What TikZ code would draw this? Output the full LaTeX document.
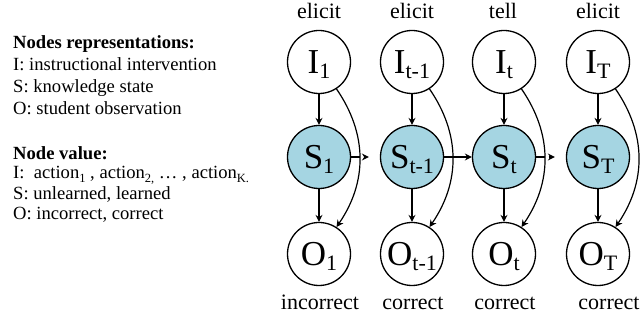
\documentclass[tikz,border=0pt]{standalone}
\usepackage{fontspec}
\setmainfont{Liberation Serif}
\newfontfamily\tnr{Liberation Serif}
\usetikzlibrary{arrows.meta}
\definecolor{sfill}{RGB}{165,213,226}
\newcommand{\nsub}[1]{\raisebox{-5pt}{\fontsize{22}{22}\selectfont #1}}
\newcommand{\tsub}[1]{\raisebox{-3.5pt}{\fontsize{12.5}{12.5}\selectfont #1}}
\begin{document}
\begin{tikzpicture}[x=1pt,y=-1pt,
  gnode/.style={circle,draw,line width=1.3pt,minimum size=63pt,inner sep=0pt,
    font=\tnr\fontsize{35}{35}\selectfont,text height=23pt,text depth=0pt},
  snode/.style={gnode,fill=sfill},
  lab/.style={anchor=base,font=\tnr\fontsize{22}{22}\selectfont,inner sep=0pt},
  legend/.style={anchor=base west,font=\tnr\fontsize{18.6}{20}\selectfont,inner sep=0pt},
  arr/.style={line width=1.2pt,-{Stealth[length=7pt,width=7pt,inset=2.4pt]}},
  darr/.style={arr,dash pattern=on 9pt off 3.5pt,shorten >=11pt}
]
\useasboundingbox (0,0) rectangle (641,320);

% legend
\node[legend] (t1) at (13,49) {\textbf{Nodes representations:}};
\node[legend] (t2) at (13,71) {I: instructional intervention};
\node[legend] (t3) at (13,93) {S: knowledge state};
\node[legend] (t4) at (13,115) {O: student observation};
\node[legend] (t5) at (13,160) {\textbf{Node value:}};
\node[legend] (t6) at (13,179) {I:\ \ action\tsub{1} , action\tsub{2,} … , action\tsub{K.}};
\node[legend] (t7) at (13,199.5) {S: unlearned, learned};
\node[legend] (t8) at (13,220) {O: incorrect, correct};

% nodes
\node[gnode] (I1) at (319,62) {I\nsub{1}};
\node[gnode] (I2) at (412,62) {I\nsub{t-1}};
\node[gnode] (I3) at (504,62) {I\nsub{t}};
\node[gnode] (I4) at (598,62) {I\nsub{T}};
\node[snode] (S1) at (319,157) {S\nsub{1}};
\node[snode] (S2) at (412,157) {S\nsub{t-1}};
\node[snode] (S3) at (504,157) {S\nsub{t}};
\node[snode] (S4) at (598,157) {S\nsub{T}};
\node[gnode] (O1) at (319,254) {O\nsub{1}};
\node[gnode] (O2) at (412,254) {O\nsub{t-1}};
\node[gnode] (O3) at (504,254) {O\nsub{t}};
\node[gnode] (O4) at (598,254) {O\nsub{T}};

% labels
\node[lab] (a1) at (319,18.5) {elicit};
\node[lab] (a2) at (412,18.5) {elicit};
\node[lab] (a3) at (503,18.5) {tell};
\node[lab] (a4) at (598,18.5) {elicit};
\node[lab] (b1) at (320,310) {incorrect};
\node[lab] (b2) at (413,310) {correct};
\node[lab] (b3) at (505,310) {correct};
\node[lab] (b4) at (609,310) {correct};

% edges
\foreach \i in {1,2,3,4}{
  \draw[arr] (I\i) -- (S\i);
  \draw[arr] (S\i) -- (O\i);
  \draw[arr] (I\i.-57) .. controls +(31,45) and +(31,-45) .. (O\i.57);
}
\draw[darr] (S1) -- (S2);
\draw[arr] (S2) -- (S3);
\draw[darr] (S3) -- (S4);
\end{tikzpicture}
\end{document}
